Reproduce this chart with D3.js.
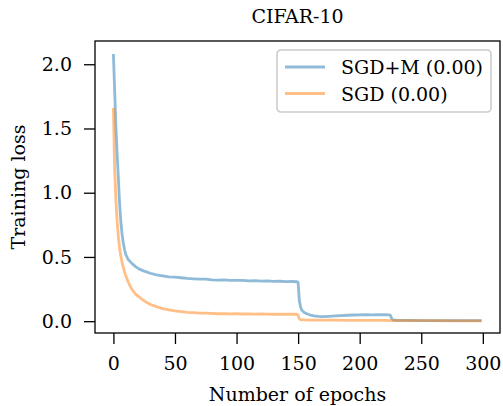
<!DOCTYPE html>
<html>
<head>
<meta charset="utf-8">
<script src="https://cdn.jsdelivr.net/npm/d3@7"></script>
<style>
  body { margin: 0; background: #fff; }
  text { font-family: "DejaVu Serif", serif; fill: #000; }
</style>
</head>
<body>
<div id="chart"></div>
<script>
// Data
var title = "CIFAR-10";
var seriesNames = ["SGD+M (0.00)", "SGD (0.00)"];
var seriesColors = ["#1f77b4", "#ff7f0e"];

var sgdmEpochs = [0, 1, 2, 3, 4, 5, 6, 7, 8, 9, 10, 12, 15, 18, 21, 25, 30, 35, 40, 45,
  50, 55, 60, 65, 70, 75, 80, 85, 90, 95, 100, 105, 110, 115, 120, 125, 130, 135, 140, 145,
  149, 150, 151, 152, 153, 155, 157, 160, 163, 166, 170, 175, 180, 185, 190, 195, 200, 205,
  210, 215, 220, 224, 225, 226, 227, 230, 240, 250, 260, 270, 280, 290, 299];
var sgdmLoss = [2.08, 1.80, 1.52, 1.30, 1.12, 0.92, 0.78, 0.68, 0.61, 0.56, 0.52, 0.48, 0.45, 0.425, 0.405, 0.39, 0.373, 0.36, 0.352, 0.345,
  0.343, 0.338, 0.333, 0.330, 0.327, 0.328, 0.322, 0.320, 0.321, 0.318, 0.317, 0.318, 0.314, 0.315, 0.312, 0.313, 0.310, 0.311, 0.308, 0.309,
  0.307, 0.300, 0.16, 0.11, 0.085, 0.068, 0.058, 0.048, 0.042, 0.038, 0.036, 0.038, 0.041, 0.044, 0.046, 0.048, 0.049, 0.050,
  0.049, 0.051, 0.050, 0.049, 0.045, 0.020, 0.010, 0.007, 0.006, 0.005, 0.005, 0.004, 0.004, 0.004, 0.004];

var sgdEpochs = [0, 1, 2, 3, 4, 5, 6, 7, 8, 9, 10, 12, 14, 16, 18, 20, 23, 26, 30, 35, 40, 45,
  50, 55, 60, 65, 70, 75, 80, 85, 90, 95, 100, 105, 110, 115, 120, 125, 130, 135, 140, 145,
  149, 150, 151, 152, 155, 160, 170, 180, 190, 200, 210, 220, 226, 230, 240, 260, 280, 299];
var sgdLoss = [1.66, 1.18, 0.95, 0.78, 0.66, 0.57, 0.51, 0.46, 0.42, 0.385, 0.355, 0.305, 0.265, 0.235, 0.21, 0.195, 0.172, 0.152, 0.13, 0.113, 0.098, 0.088,
  0.080, 0.074, 0.069, 0.066, 0.063, 0.062, 0.060, 0.058, 0.059, 0.057, 0.058, 0.056, 0.057, 0.055, 0.056, 0.055, 0.054, 0.055, 0.054, 0.055,
  0.054, 0.045, 0.018, 0.012, 0.010, 0.009, 0.008, 0.008, 0.007, 0.007, 0.006, 0.006, 0.005, 0.004, 0.004, 0.004, 0.003, 0.003];

var xTicks = [0, 50, 100, 150, 200, 250, 300];
var yTicks = [0.0, 0.5, 1.0, 1.5, 2.0];

var width = 503, height = 406;
var margin = {top: 41, right: 3, bottom: 73, left: 95};
var innerW = width - margin.left - margin.right;
var innerH = height - margin.top - margin.bottom;
var fontSize = "19px";

var svg = d3.select("#chart").append("svg")
    .attr("width", width)
    .attr("height", height);

var x = d3.scaleLinear().domain([-14.95, 313.95]).range([0, innerW]);
var y = d3.scaleLinear().domain([-0.092, 2.181]).range([innerH, 0]);

var g = svg.append("g")
    .attr("transform", "translate(" + margin.left + "," + margin.top + ")");

// Axes
var xAxis = g.append("g")
    .attr("transform", "translate(0," + innerH + ")")
    .call(d3.axisBottom(x).tickValues(xTicks).tickSize(11).tickPadding(13).tickFormat(d3.format("d")));
var yAxis = g.append("g")
    .call(d3.axisLeft(y).tickValues(yTicks).tickSize(11).tickPadding(12).tickFormat(d3.format(".1f")));

[xAxis, yAxis].forEach(function(a) {
  a.select(".domain").remove();
  a.selectAll(".tick line").attr("stroke", "#000").attr("stroke-width", 1.3);
  a.selectAll(".tick text")
    .style("font-family", "DejaVu Serif")
    .style("font-size", fontSize)
    .attr("fill", "#000");
});

// Lines
var line = d3.line()
    .x(function(d) { return x(d[0]); })
    .y(function(d) { return y(d[1]); });

var series = [
  d3.zip(sgdmEpochs, sgdmLoss),
  d3.zip(sgdEpochs, sgdLoss)
];

series.forEach(function(s, i) {
  g.append("path")
    .datum(s)
    .attr("fill", "none")
    .attr("stroke", seriesColors[i])
    .attr("stroke-opacity", 0.5)
    .attr("stroke-width", 2.8)
    .attr("stroke-linejoin", "round")
    .attr("d", line);
});

// Frame
g.append("rect")
    .attr("x", 0)
    .attr("y", 0)
    .attr("width", innerW)
    .attr("height", innerH)
    .attr("fill", "none")
    .attr("stroke", "#000")
    .attr("stroke-width", 1.3);

// Legend
var legend = g.append("g")
    .attr("transform", "translate(" + (277 - margin.left) + "," + (50 - margin.top) + ")");

legend.append("rect")
    .attr("width", 214)
    .attr("height", 62)
    .attr("rx", 4)
    .attr("fill", "#fff")
    .attr("fill-opacity", 0.8)
    .attr("stroke", "#cccccc")
    .attr("stroke-width", 1.6);

seriesNames.forEach(function(name, i) {
  var row = legend.append("g").attr("transform", "translate(0," + (17 + i * 26.5) + ")");
  row.append("line")
    .attr("x1", 8).attr("x2", 48)
    .attr("stroke", seriesColors[i])
    .attr("stroke-opacity", 0.5)
    .attr("stroke-width", 2.8);
  row.append("text")
    .attr("x", 64)
    .attr("y", 7)
    .style("font-size", fontSize)
    .text(name);
});

// Title and labels
svg.append("text")
    .attr("x", margin.left + innerW / 2)
    .attr("y", 22.5)
    .attr("text-anchor", "middle")
    .style("font-size", fontSize)
    .text(title);

svg.append("text")
    .attr("x", margin.left + innerW / 2)
    .attr("y", 401)
    .attr("text-anchor", "middle")
    .style("font-size", fontSize)
    .text("Number of epochs");

svg.append("text")
    .attr("transform", "translate(25," + (margin.top + innerH / 2) + ") rotate(-90)")
    .attr("text-anchor", "middle")
    .style("font-size", fontSize)
    .text("Training loss");
</script>
</body>
</html>
